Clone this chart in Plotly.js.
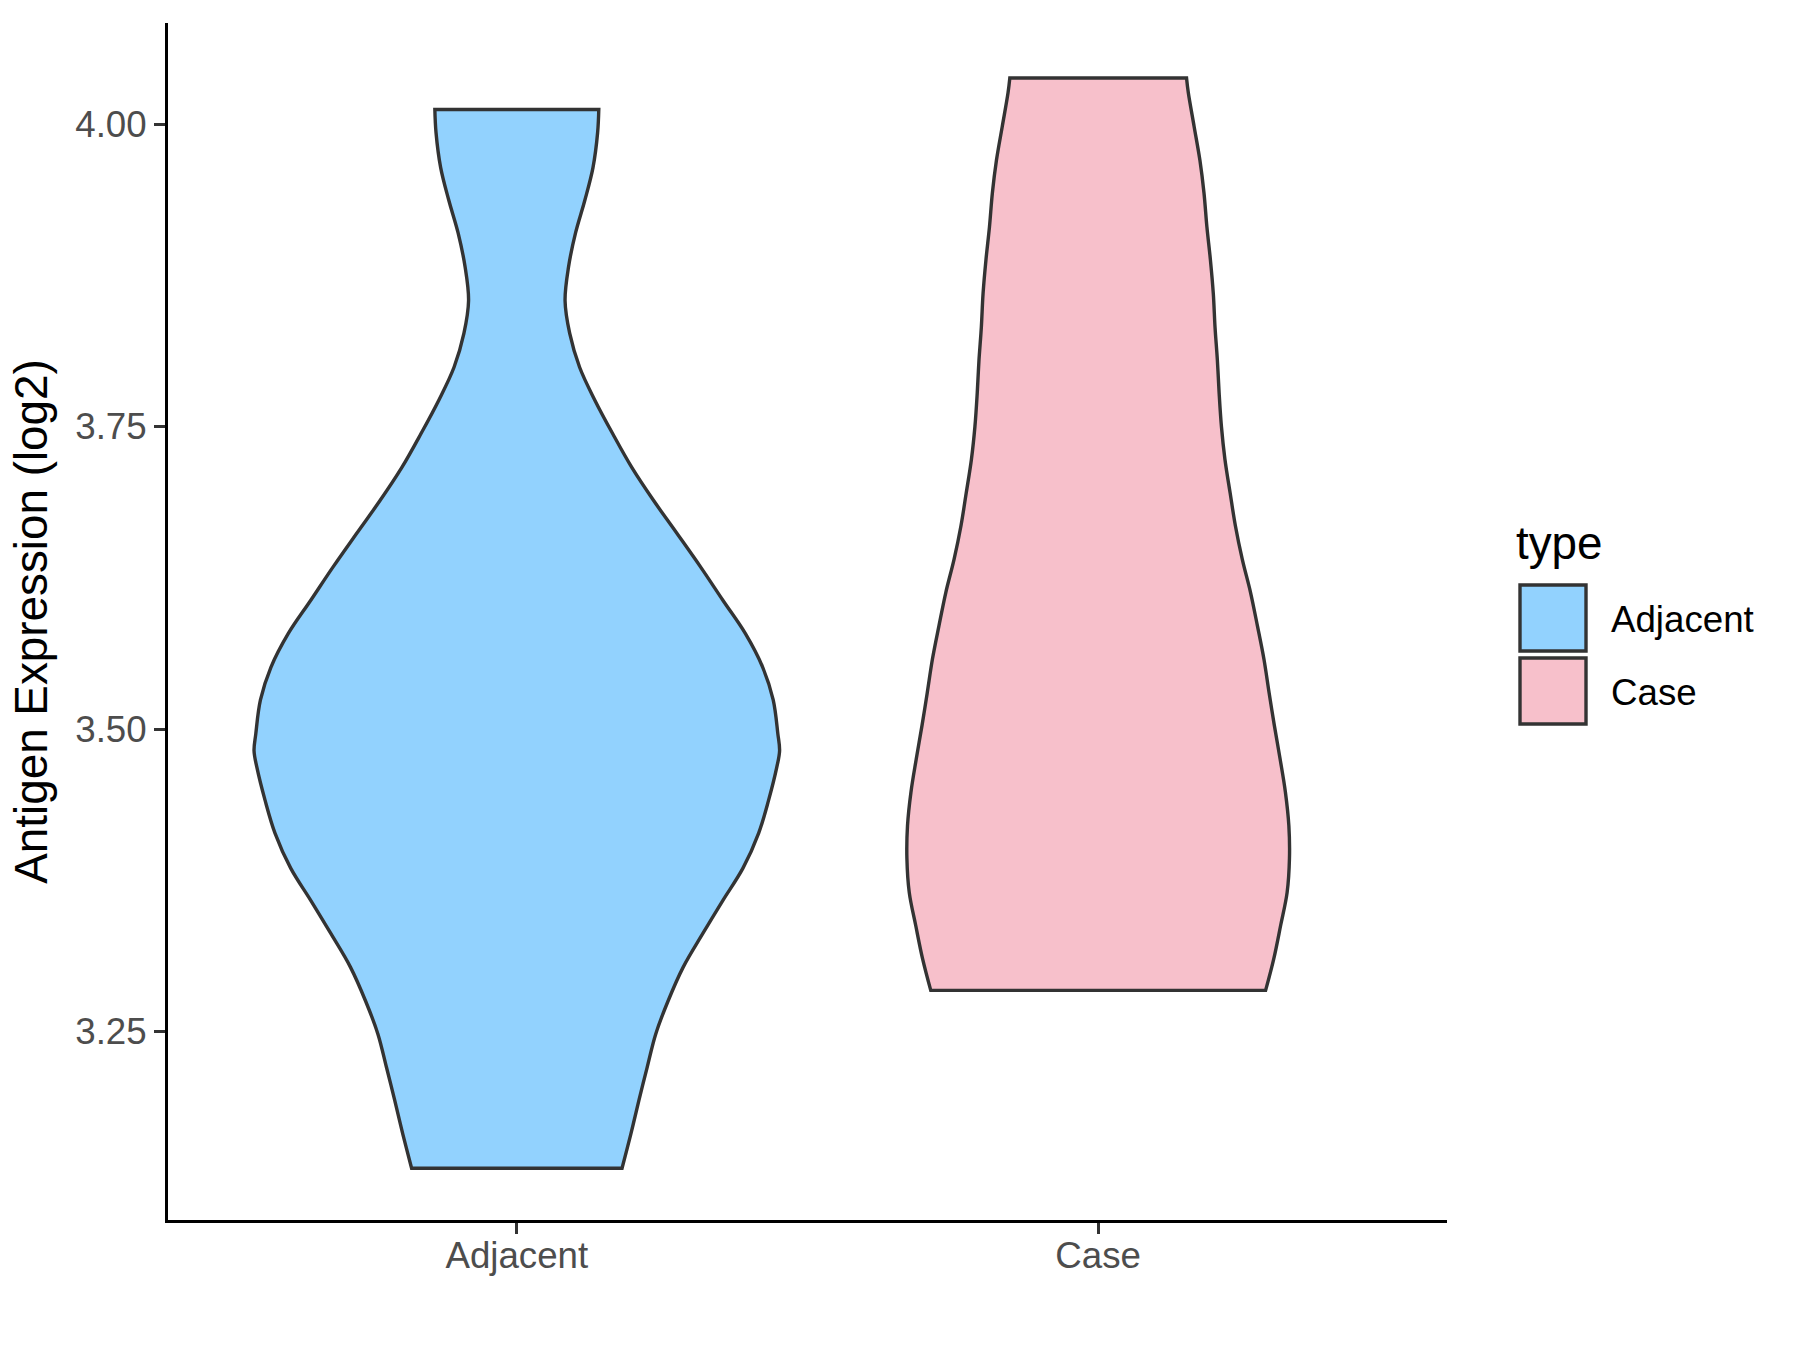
<!DOCTYPE html>
<html>
<head>
<meta charset="utf-8">
<script src="https://cdn.plot.ly/plotly-3.0.1.min.js"></script>
<style>html,body{margin:0;padding:0;background:#fff;}#chart{width:1800px;height:1350px;}</style>
</head>
<body>
<div id="chart"></div>
<script>
// Categories and colours
const categories = ['Adjacent', 'Case'];
const fillColors = ['#92D2FE', '#F7C0CB'];

// Violin outlines: expression level (log2) and half-width (x units)
const adjacentY = [4.012, 3.993, 3.964, 3.937, 3.910, 3.882, 3.854, 3.827, 3.799, 3.772, 3.744, 3.716,
  3.689, 3.662, 3.634, 3.606, 3.579, 3.551, 3.524, 3.496, 3.482, 3.468, 3.441, 3.414, 3.385, 3.358,
  3.331, 3.303, 3.275, 3.248, 3.220, 3.193, 3.165, 3.137];
const adjacentHalfWidth = [0.141, 0.139, 0.131, 0.117, 0.101, 0.089, 0.083, 0.091, 0.108, 0.134, 0.165, 0.198,
  0.235, 0.275, 0.316, 0.355, 0.393, 0.423, 0.441, 0.449, 0.452, 0.447, 0.433, 0.416, 0.389, 0.354,
  0.320, 0.286, 0.260, 0.239, 0.224, 0.210, 0.196, 0.181];

const caseY = [4.038, 4.026, 3.998, 3.970, 3.943, 3.915, 3.888, 3.860, 3.832, 3.805, 3.778, 3.750,
  3.723, 3.695, 3.668, 3.640, 3.613, 3.585, 3.558, 3.530, 3.503, 3.475, 3.448, 3.420, 3.393, 3.365,
  3.338, 3.310, 3.284];
const caseHalfWidth = [0.152, 0.155, 0.165, 0.175, 0.182, 0.187, 0.193, 0.198, 0.201, 0.205, 0.208, 0.212,
  0.218, 0.227, 0.236, 0.248, 0.262, 0.274, 0.285, 0.294, 0.303, 0.313, 0.322, 0.328, 0.329, 0.325,
  0.314, 0.302, 0.288];

// Axis ticks
const yTickVals = [3.25, 3.50, 3.75, 4.00];
const yTickText = ['3.25', '3.50', '3.75', '4.00'];
const yTitle = 'Antigen Expression (log2)';
const legendTitle = 'type';

// Build a closed outline; end points of each side are repeated so the spline keeps sharp corners
function outline(pos, ys, ws) {
  const xs = [], yy = [];
  const n = ys.length;
  const add = (x, y) => { xs.push(x); yy.push(y); };
  add(pos - ws[0], ys[0]);
  for (let i = 0; i < n; i++) add(pos - ws[i], ys[i]);
  add(pos - ws[n - 1], ys[n - 1]);
  add(pos + ws[n - 1], ys[n - 1]);
  for (let i = n - 1; i >= 0; i--) add(pos + ws[i], ys[i]);
  add(pos + ws[0], ys[0]);
  add(pos - ws[0], ys[0]);
  add(pos - ws[0], ys[0]);
  return {x: xs, y: yy};
}

const series = [[adjacentY, adjacentHalfWidth], [caseY, caseHalfWidth]];
const traces = series.map((s, i) => {
  const o = outline(i + 1, s[0], s[1]);
  return {
    type: 'scatter', mode: 'lines', x: o.x, y: o.y, name: categories[i],
    fill: 'toself', fillcolor: fillColors[i],
    line: {color: '#333333', width: 3.4, simplify: false, shape: 'spline', smoothing: 1},
    hoverinfo: 'skip', showlegend: false
  };
});

const FONT = '"Liberation Sans", Arial, sans-serif';
const plotL = 168, plotR = 1447, plotT = 23, plotB = 1220;
const px2x = p => (p - plotL) / (plotR - plotL);
const px2y = p => (plotB - p) / (plotB - plotT);

const shapes = [], annotations = [];
// custom legend
const keyTop = [585, 658];
categories.forEach((c, i) => {
  shapes.push({type: 'rect', xref: 'paper', yref: 'paper',
    x0: px2x(1520), x1: px2x(1586), y0: px2y(keyTop[i] + 66), y1: px2y(keyTop[i]),
    fillcolor: fillColors[i], line: {color: '#333333', width: 3.4}});
  annotations.push({xref: 'paper', yref: 'paper', x: px2x(1609), y: px2y(keyTop[i] + 34),
    xanchor: 'left', yanchor: 'middle', showarrow: false, text: c,
    font: {family: FONT, size: 36.7, color: '#000000'}});
});
annotations.push({xref: 'paper', yref: 'paper', x: px2x(1514), y: px2y(543),
  xanchor: 'left', yanchor: 'middle', showarrow: false, text: legendTitle,
  font: {family: FONT, size: 45.8, color: '#000000'}});

const layout = {
  width: 1800, height: 1350,
  margin: {l: plotL, r: 1800 - plotR, t: plotT, b: 1350 - plotB, pad: 0},
  paper_bgcolor: '#ffffff', plot_bgcolor: '#ffffff',
  showlegend: false,
  font: {family: FONT},
  xaxis: {
    range: [0.4, 2.6], tickvals: [1, 2], ticktext: categories,
    showgrid: false, zeroline: false, showline: true, linecolor: '#000000', linewidth: 3,
    ticks: 'outside', ticklen: 11, tickwidth: 3, tickcolor: '#333333', ticklabelstandoff: -10,
    tickfont: {family: FONT, size: 36.7, color: '#4D4D4D'}
  },
  yaxis: {
    range: [3.0942, 4.0835], tickvals: yTickVals, ticktext: yTickText,
    showgrid: false, zeroline: false, showline: true, linecolor: '#000000', linewidth: 3,
    ticks: 'outside', ticklen: 11, tickwidth: 3, tickcolor: '#333333',
    tickfont: {family: FONT, size: 36.7, color: '#4D4D4D'},
    title: {text: yTitle, font: {family: FONT, size: 45.8, color: '#000000'}, standoff: 14}
  },
  shapes: shapes,
  annotations: annotations
};

Plotly.newPlot('chart', traces, layout, {staticPlot: true, displayModeBar: false});
</script>
</body>
</html>
